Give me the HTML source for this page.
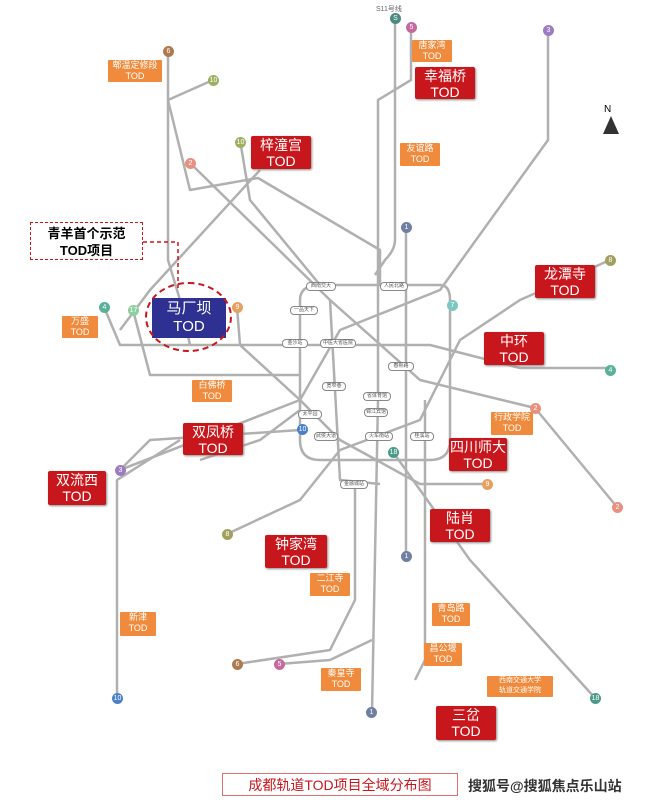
<!DOCTYPE html>
<html><head><meta charset="utf-8"><style>
body{margin:0;width:648px;height:804px;background:#fff;position:relative;overflow:hidden;font-family:"Liberation Sans","Noto Sans CJK SC",sans-serif}
.r{position:absolute;background:#c8161d;color:#fff;text-align:center;font-size:14px;line-height:16px;border-radius:2px;padding-top:1px;box-shadow:1px 1px 2px #888}
.o{position:absolute;background:#f08a3c;color:#fff;text-align:center;font-size:9px;line-height:11px;border-radius:1px}
.c{position:absolute;width:11px;height:11px;border-radius:50%;color:#fff;font-size:7px;line-height:11px;text-align:center}
.p{position:absolute;height:7px;background:#fff;border:1px solid #888;border-radius:4px;font-size:5px;line-height:7px;color:#555;text-align:center}
svg{position:absolute;left:0;top:0}
</style></head><body>
<svg width="648" height="804" fill="none" stroke="#b0b0b0" stroke-width="2.5" stroke-linejoin="round">
<path d="M395,18 V240 Q395,250 385,260 L375,275"/>
<path d="M411,28 V80 L378,100 V400 L372,712"/>
<path d="M548,30 V140 L440,290 L340,330 L300,400 L120,470"/>
<path d="M104,307 L120,345 H430 L520,368 H610"/>
<path d="M190,163 L330,300 L420,380 L535,408 L617,507"/>
<path d="M168,52 V100 L190,190 L258,178 L380,250 V285"/>
<path d="M213,80 L168,100 V260 L180,300 L190,345"/>
<path d="M406,228 V556"/>
<path d="M393,452 L470,560 L595,698"/>
<path d="M610,260 L520,300 L460,340 L420,420 L340,450 L300,500 L227,534"/>
<path d="M237,307 L240,345 L300,400 L340,440 L420,484 H487"/>
<path d="M133,310 L150,375 H300"/>
<path d="M120,470 L150,440 L300,430"/>
<path d="M117,698 V480 L180,440"/>
<path d="M237,664 L330,650 L355,600 L355,480"/>
<path d="M279,664 L330,660 L372,640"/>
<path d="M425,400 V660 L415,680"/>
<path d="M260,170 L150,290 L120,330"/>
<path d="M320,285 H440 Q450,285 450,300 V440 Q450,460 430,460 H320 Q300,460 300,440 V300 Q300,285 320,285Z"/>
<path d="M240,140 L250,200 L320,285"/>
<path d="M330,300 L340,480 L380,484"/>
<path d="M300,410 L260,440 L200,460"/>
</svg>
<div class="p" style="left:306px;top:282px;width:28px">西南交大</div>
<div class="p" style="left:380px;top:282px;width:26px">人民北路</div>
<div class="p" style="left:290px;top:306px;width:26px">一品天下</div>
<div class="p" style="left:282px;top:339px;width:24px">金沙站</div>
<div class="p" style="left:320px;top:339px;width:34px">中医大省医院</div>
<div class="p" style="left:388px;top:362px;width:24px">春熙路</div>
<div class="p" style="left:322px;top:382px;width:22px">宽窄巷</div>
<div class="p" style="left:363px;top:392px;width:26px">省体育馆</div>
<div class="p" style="left:298px;top:410px;width:22px">太平园</div>
<div class="p" style="left:364px;top:408px;width:22px">锦江宾馆</div>
<div class="p" style="left:365px;top:432px;width:26px">火车南站</div>
<div class="p" style="left:410px;top:432px;width:22px">桂溪站</div>
<div class="p" style="left:314px;top:432px;width:22px">武侯大道</div>
<div class="p" style="left:340px;top:480px;width:26px">金融城站</div>
<div class="c" style="left:390px;top:13px;background:#4a8a80">S</div>
<div style="position:absolute;left:376px;top:4px;font-size:7px;color:#666">S11号线</div>
<div class="c" style="left:406px;top:22px;background:#c56aa0">5</div>
<div class="c" style="left:543px;top:25px;background:#9b7cc0">3</div>
<div class="c" style="left:163px;top:46px;background:#b07a50">6</div>
<div class="c" style="left:208px;top:75px;background:#9cb060">10</div>
<div class="c" style="left:235px;top:137px;background:#9cb060">10</div>
<div class="c" style="left:185px;top:158px;background:#e89080">2</div>
<div class="c" style="left:401px;top:222px;background:#7080a0">1</div>
<div class="c" style="left:605px;top:255px;background:#a0a060">8</div>
<div class="c" style="left:99px;top:302px;background:#5bb09a">4</div>
<div class="c" style="left:128px;top:305px;background:#8cd0a0">17</div>
<div class="c" style="left:232px;top:302px;background:#e8a060">9</div>
<div class="c" style="left:447px;top:300px;background:#7cc8c0">7</div>
<div class="c" style="left:605px;top:365px;background:#5bb09a">4</div>
<div class="c" style="left:530px;top:403px;background:#e89080">2</div>
<div class="c" style="left:297px;top:424px;background:#4a80c8">10</div>
<div class="c" style="left:388px;top:447px;background:#4a9a88">18</div>
<div class="c" style="left:115px;top:465px;background:#9b7cc0">3</div>
<div class="c" style="left:482px;top:479px;background:#e8a060">9</div>
<div class="c" style="left:612px;top:502px;background:#e89080">2</div>
<div class="c" style="left:222px;top:529px;background:#a0a060">8</div>
<div class="c" style="left:401px;top:551px;background:#7080a0">1</div>
<div class="c" style="left:232px;top:659px;background:#b07a50">6</div>
<div class="c" style="left:274px;top:659px;background:#c56aa0">5</div>
<div class="c" style="left:112px;top:693px;background:#4a80c8">10</div>
<div class="c" style="left:590px;top:693px;background:#4a9a88">18</div>
<div class="c" style="left:366px;top:707px;background:#7080a0">1</div>
<div style="position:absolute;left:604px;top:104px;font-size:10px">N</div>
<div style="position:absolute;left:603px;top:116px;width:0;height:0;border-left:8px solid transparent;border-right:8px solid transparent;border-bottom:18px solid #333"></div>

<div class="o" style="left:108px;top:60px;width:54px;height:22px">郫温定修段<br>TOD</div>
<div class="o" style="left:412px;top:40px;width:40px;height:22px">唐家湾<br>TOD</div>
<div class="r" style="left:415px;top:67px;width:60px;height:31px">幸福桥<br>TOD</div>
<div class="r" style="left:251px;top:136px;width:60px;height:32px">梓潼宫<br>TOD</div>
<div class="o" style="left:400px;top:143px;width:40px;height:23px">友谊路<br>TOD</div>
<div style="position:absolute;left:30px;top:222px;width:113px;height:38px;border:1.5px dashed #c8161d;font-size:13px;font-weight:bold;text-align:center;line-height:17px;padding-top:2px;box-sizing:border-box">青羊首个示范<br>TOD项目</div>
<svg width="648" height="804"><path d="M143,242 H178 V290" stroke="#c8161d" stroke-width="1.5" stroke-dasharray="4,3" fill="none"/></svg>
<div class="r" style="left:535px;top:265px;width:60px;height:32px">龙潭寺<br>TOD</div>
<div class="o" style="left:62px;top:316px;width:36px;height:22px">万盛<br>TOD</div>
<div style="position:absolute;left:152px;top:298px;width:74px;height:40px;background:#2e3192;color:#fff;text-align:center;font-size:15px;line-height:18px;padding-top:2px;box-sizing:border-box">马厂坝<br>TOD</div>
<div style="position:absolute;left:145px;top:282px;width:87px;height:70px;border:2.5px dashed #c8161d;border-radius:50%;box-sizing:border-box"></div>
<div class="r" style="left:484px;top:332px;width:60px;height:32px">中环<br>TOD</div>
<div class="o" style="left:192px;top:380px;width:40px;height:22px">白佛桥<br>TOD</div>
<div class="o" style="left:491px;top:412px;width:42px;height:23px">行政学院<br>TOD</div>
<div class="r" style="left:183px;top:423px;width:60px;height:31px">双凤桥<br>TOD</div>
<div class="r" style="left:449px;top:438px;width:58px;height:32px">四川师大<br>TOD</div>
<div class="r" style="left:48px;top:471px;width:58px;height:33px">双流西<br>TOD</div>
<div class="r" style="left:430px;top:509px;width:60px;height:32px">陆肖<br>TOD</div>
<div class="r" style="left:265px;top:535px;width:62px;height:32px">钟家湾<br>TOD</div>
<div class="o" style="left:310px;top:573px;width:40px;height:23px">二江寺<br>TOD</div>
<div class="o" style="left:432px;top:603px;width:38px;height:23px">青岛路<br>TOD</div>
<div class="o" style="left:120px;top:612px;width:36px;height:24px">新津<br>TOD</div>
<div class="o" style="left:424px;top:643px;width:38px;height:23px">昌公堰<br>TOD</div>
<div class="o" style="left:321px;top:668px;width:40px;height:23px">秦皇寺<br>TOD</div>
<div class="o" style="left:487px;top:676px;width:66px;height:21px;font-size:7px;line-height:10px">西南交通大学<br>轨道交通学院</div>
<div class="r" style="left:436px;top:706px;width:60px;height:33px">三岔<br>TOD</div>
<div style="position:absolute;left:222px;top:773px;width:236px;height:23px;border:1px solid #e07070;color:#c8161d;font-size:14px;text-align:center;line-height:22px;box-sizing:border-box">成都轨道TOD项目全域分布图</div>
<div style="position:absolute;left:468px;top:776px;font-size:14px;font-weight:bold;color:#333">搜狐号@搜狐焦点乐山站</div>
</body></html>
